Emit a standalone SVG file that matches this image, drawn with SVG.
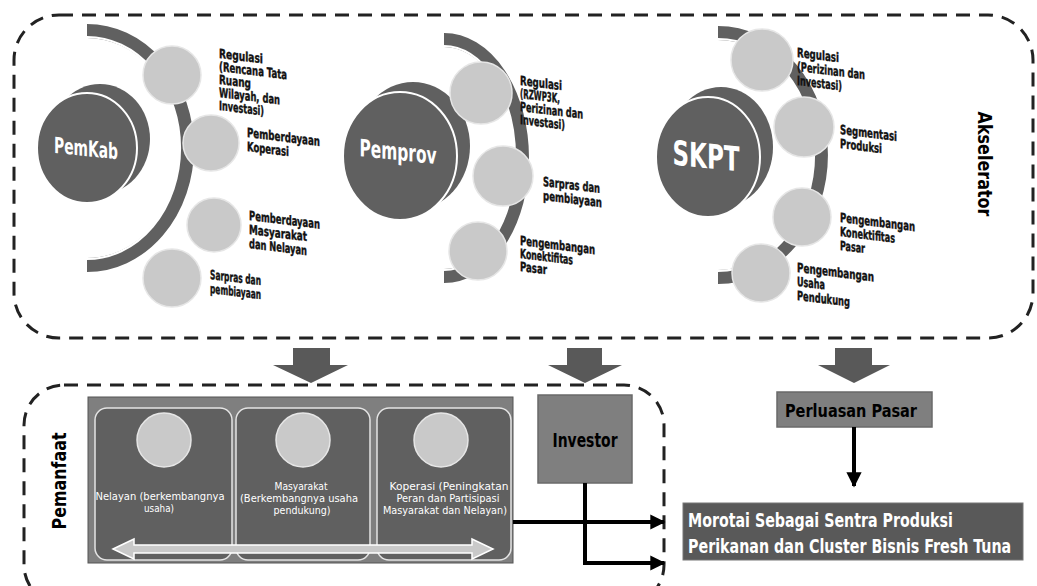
<svg xmlns="http://www.w3.org/2000/svg" width="1037" height="586" viewBox="0 0 1037 586">
<defs>
<marker id="ah" viewBox="0 0 10 10" refX="9" refY="5" markerWidth="3.8" markerHeight="4.2" orient="auto" markerUnits="strokeWidth"><path d="M0,0 L10,5 L0,10 z" fill="#000"/></marker>
<style>
.dash{fill:none;stroke:#222;stroke-width:3;stroke-dasharray:14 9}
.disc{fill:#606060;stroke:#fff;stroke-width:2}
.ring{fill:none;stroke:#606060;stroke-width:14}
.ringw{fill:none;stroke:#fff;stroke-width:2.2}
.sc{fill:#c9c9c9;stroke:#e6e6e6;stroke-width:1.5}
.lbl{font-family:"Liberation Sans Narrow","DejaVu Sans Condensed","Liberation Sans",sans-serif;font-weight:bold;font-size:13px;fill:#111;stroke:#111;stroke-width:0.4}
.big{font-family:"Liberation Sans Narrow","DejaVu Sans Condensed","Liberation Sans",sans-serif;font-weight:bold;fill:#fff}
.ptx{font-family:"Liberation Sans Narrow","DejaVu Sans Condensed","Liberation Sans",sans-serif;font-size:11px;fill:#fff;text-anchor:middle}
.ttl{font-family:"Liberation Sans Narrow","DejaVu Sans Condensed","Liberation Sans",sans-serif;font-weight:bold;fill:#000}
.blk{fill:#595959}
.box{fill:#7f7f7f;stroke:#6a6a6a;stroke-width:1.5}
.panel{fill:#606060;stroke:#e4e4e4;stroke-width:1.5}
.con{fill:none;stroke:#000;stroke-width:4}
</style>
</defs>

<g id="akselerator">
<rect class="dash" x="14" y="15" width="1019" height="323" rx="45"/>
<text class="ttl" font-size="20" transform="translate(978,164) rotate(90)" text-anchor="middle" textLength="105" lengthAdjust="spacingAndGlyphs">Akselerator</text>
</g>

<g id="pemkab">
<path class="ring" d="M87 31 A100 117 0 0 1 87 265"/>
<path class="ringw" d="M87 37 A93 111 0 0 1 87 259"/>
<ellipse cx="100" cy="139" rx="50" ry="55" fill="#606060"/>
<ellipse class="disc" cx="87" cy="148" rx="50" ry="55"/>
<text class="big" font-size="22" transform="translate(86,156) skewY(6)" text-anchor="middle" textLength="64" lengthAdjust="spacingAndGlyphs">PemKab</text>
<circle class="sc" cx="172" cy="75" r="29"/>
<circle class="sc" cx="211" cy="143" r="28"/>
<circle class="sc" cx="214" cy="225" r="27"/>
<circle class="sc" cx="172" cy="278" r="29"/>
<g transform="translate(219,58) skewY(7)">
<text class="lbl" x="0" y="0" textLength="44" lengthAdjust="spacingAndGlyphs">Regulasi</text>
<text class="lbl" x="0" y="13" textLength="68" lengthAdjust="spacingAndGlyphs">(Rencana Tata</text>
<text class="lbl" x="0" y="26" textLength="32" lengthAdjust="spacingAndGlyphs">Ruang</text>
<text class="lbl" x="0" y="39" textLength="61" lengthAdjust="spacingAndGlyphs">Wilayah, dan</text>
<text class="lbl" x="0" y="52" textLength="45" lengthAdjust="spacingAndGlyphs">Investasi)</text>
</g>
<g transform="translate(247,137) skewY(7)">
<text class="lbl" x="0" y="0" textLength="73" lengthAdjust="spacingAndGlyphs">Pemberdayaan</text>
<text class="lbl" x="0" y="14" textLength="42" lengthAdjust="spacingAndGlyphs">Koperasi</text>
</g>
<g transform="translate(249,220) skewY(7)">
<text class="lbl" x="0" y="0" textLength="71" lengthAdjust="spacingAndGlyphs">Pemberdayaan</text>
<text class="lbl" x="0" y="14" textLength="58" lengthAdjust="spacingAndGlyphs">Masyarakat</text>
<text class="lbl" x="0" y="28" textLength="58" lengthAdjust="spacingAndGlyphs">dan Nelayan</text>
</g>
<g transform="translate(210,279) skewY(7)">
<text class="lbl" x="0" y="0" textLength="51" lengthAdjust="spacingAndGlyphs">Sarpras dan</text>
<text class="lbl" x="0" y="14" textLength="51" lengthAdjust="spacingAndGlyphs">pembiayaan</text>
</g>
</g>

<g id="pemprov">
<path class="ring" d="M444 40 A78 118 0 0 1 444 276"/>
<path class="ringw" d="M444 46 A71 112 0 0 1 444 270"/>
<ellipse cx="413" cy="146" rx="57" ry="64" fill="#606060"/>
<ellipse class="disc" cx="400" cy="156" rx="57" ry="64"/>
<text class="big" font-size="24" transform="translate(398,160) skewY(6)" text-anchor="middle" textLength="77" lengthAdjust="spacingAndGlyphs">Pemprov</text>
<circle class="sc" cx="481" cy="93" r="31"/>
<circle class="sc" cx="503" cy="176" r="30"/>
<circle class="sc" cx="478" cy="251" r="29"/>
<g transform="translate(520,85) skewY(7)">
<text class="lbl" x="0" y="0" textLength="42" lengthAdjust="spacingAndGlyphs">Regulasi</text>
<text class="lbl" x="0" y="13" textLength="40" lengthAdjust="spacingAndGlyphs">(RZWP3K,</text>
<text class="lbl" x="0" y="26" textLength="63" lengthAdjust="spacingAndGlyphs">Perizinan dan</text>
<text class="lbl" x="0" y="39" textLength="45" lengthAdjust="spacingAndGlyphs">Investasi)</text>
</g>
<g transform="translate(543,186) skewY(7)">
<text class="lbl" x="0" y="0" textLength="57" lengthAdjust="spacingAndGlyphs">Sarpras dan</text>
<text class="lbl" x="0" y="14" textLength="59" lengthAdjust="spacingAndGlyphs">pembiayaan</text>
</g>
<g transform="translate(520,245) skewY(7)">
<text class="lbl" x="0" y="0" textLength="75" lengthAdjust="spacingAndGlyphs">Pengembangan</text>
<text class="lbl" x="0" y="13" textLength="53" lengthAdjust="spacingAndGlyphs">Konektifitas</text>
<text class="lbl" x="0" y="26" textLength="27" lengthAdjust="spacingAndGlyphs">Pasar</text>
</g>
</g>

<g id="skpt">
<path class="ring" d="M718 33 A103 122 0 0 1 718 277"/>
<path class="ringw" d="M718 39 A96 116 0 0 1 718 271"/>
<ellipse cx="721" cy="147" rx="52" ry="60" fill="#606060"/>
<ellipse class="disc" cx="708" cy="157" rx="52" ry="60"/>
<text class="big" font-size="34" transform="translate(706,168) skewY(6)" text-anchor="middle" textLength="67" lengthAdjust="spacingAndGlyphs">SKPT</text>
<circle class="sc" cx="762" cy="60" r="31"/>
<circle class="sc" cx="804" cy="127" r="30"/>
<circle class="sc" cx="802" cy="217" r="29"/>
<circle class="sc" cx="761" cy="273" r="29"/>
<g transform="translate(797,57) skewY(7)">
<text class="lbl" x="0" y="0" textLength="42" lengthAdjust="spacingAndGlyphs">Regulasi</text>
<text class="lbl" x="0" y="14" textLength="68" lengthAdjust="spacingAndGlyphs">(Perizinan dan</text>
<text class="lbl" x="0" y="28" textLength="45" lengthAdjust="spacingAndGlyphs">Investasi)</text>
</g>
<g transform="translate(840,134) skewY(7)">
<text class="lbl" x="0" y="0" textLength="57" lengthAdjust="spacingAndGlyphs">Segmentasi</text>
<text class="lbl" x="0" y="14" textLength="42" lengthAdjust="spacingAndGlyphs">Produksi</text>
</g>
<g transform="translate(840,222) skewY(7)">
<text class="lbl" x="0" y="0" textLength="75" lengthAdjust="spacingAndGlyphs">Pengembangan</text>
<text class="lbl" x="0" y="14" textLength="55" lengthAdjust="spacingAndGlyphs">Konektifitas</text>
<text class="lbl" x="0" y="28" textLength="25" lengthAdjust="spacingAndGlyphs">Pasar</text>
</g>
<g transform="translate(797,272) skewY(7)">
<text class="lbl" x="0" y="0" textLength="77" lengthAdjust="spacingAndGlyphs">Pengembangan</text>
<text class="lbl" x="0" y="14" textLength="28" lengthAdjust="spacingAndGlyphs">Usaha</text>
<text class="lbl" x="0" y="28" textLength="53" lengthAdjust="spacingAndGlyphs">Pendukung</text>
</g>
</g>

<g id="block-arrows">
<polygon class="blk" points="293,348 330,348 330,365 348,365 311,383 273,365 293,365"/>
<polygon class="blk" points="567,348 602,348 602,365 622,365 585,383 548,365 567,365"/>
<polygon class="blk" points="835,348 872,348 872,365 890,365 854,383 818,365 835,365"/>
</g>

<g id="pemanfaat">
<rect class="dash" x="24" y="385" width="640" height="220" rx="40"/>
<text class="ttl" font-size="20" transform="translate(66,481) rotate(-90)" text-anchor="middle" textLength="97" lengthAdjust="spacingAndGlyphs">Pemanfaat</text>
<rect x="88" y="397" width="425" height="166" fill="#7f7f7f" stroke="#555" stroke-width="1"/>
<rect class="panel" x="95" y="408" width="137" height="152" rx="12"/>
<rect class="panel" x="236" y="408" width="134" height="152" rx="12"/>
<rect class="panel" x="377" y="408" width="134" height="152" rx="12"/>
<circle class="sc" cx="164" cy="440" r="27" stroke="#fff"/>
<circle class="sc" cx="303" cy="440" r="27" stroke="#fff"/>
<circle class="sc" cx="441" cy="440" r="27" stroke="#fff"/>
<text class="ptx" x="160" y="500" textLength="129" lengthAdjust="spacingAndGlyphs">Nelayan (berkembangnya</text>
<text class="ptx" x="159" y="512" textLength="30" lengthAdjust="spacingAndGlyphs">usaha)</text>
<text class="ptx" x="301" y="490" textLength="53" lengthAdjust="spacingAndGlyphs">Masyarakat</text>
<text class="ptx" x="299" y="502" textLength="118" lengthAdjust="spacingAndGlyphs">(Berkembangnya usaha</text>
<text class="ptx" x="302" y="514" textLength="57" lengthAdjust="spacingAndGlyphs">pendukung)</text>
<text class="ptx" x="449" y="490" textLength="119" lengthAdjust="spacingAndGlyphs">Koperasi (Peningkatan</text>
<text class="ptx" x="448" y="502" textLength="103" lengthAdjust="spacingAndGlyphs">Peran dan Partisipasi</text>
<text class="ptx" x="445" y="514" textLength="124" lengthAdjust="spacingAndGlyphs">Masyarakat dan Nelayan)</text>
<polygon points="113,549 134,539 134,545 472,545 472,539 493,549 472,559 472,553 134,553 134,559" fill="#c9c9c9" stroke="#fff" stroke-width="1.5"/>
</g>

<g id="investor">
<rect class="box" x="538" y="395" width="94" height="88"/>
<text class="ttl" font-size="20" x="585" y="447" text-anchor="middle" textLength="65" lengthAdjust="spacingAndGlyphs">Investor</text>
</g>

<g id="perluasan">
<rect class="box" x="777" y="392" width="155" height="35"/>
<text class="ttl" font-size="18" x="851" y="417" text-anchor="middle" textLength="132" lengthAdjust="spacingAndGlyphs">Perluasan Pasar</text>
</g>

<g id="morotai">
<rect x="683" y="503" width="340" height="57" fill="#595959" stroke="#777" stroke-width="1"/>
<g transform="translate(688,0) scale(0.8,1)">
<text class="big" font-size="19" x="0" y="527" textLength="331" lengthAdjust="spacingAndGlyphs">Morotai Sebagai Sentra Produksi</text>
<text class="big" font-size="19" x="0" y="553" textLength="404" lengthAdjust="spacingAndGlyphs">Perikanan dan Cluster Bisnis Fresh Tuna</text>
</g>
</g>

<g id="connectors">
<path class="con" d="M854 427 L854 486" marker-end="url(#ah)"/>
<path class="con" d="M513 522 L664 522" marker-end="url(#ah)"/>
<path class="con" d="M585 483 L585 563 L664 563" marker-end="url(#ah)"/>
</g>
</svg>
